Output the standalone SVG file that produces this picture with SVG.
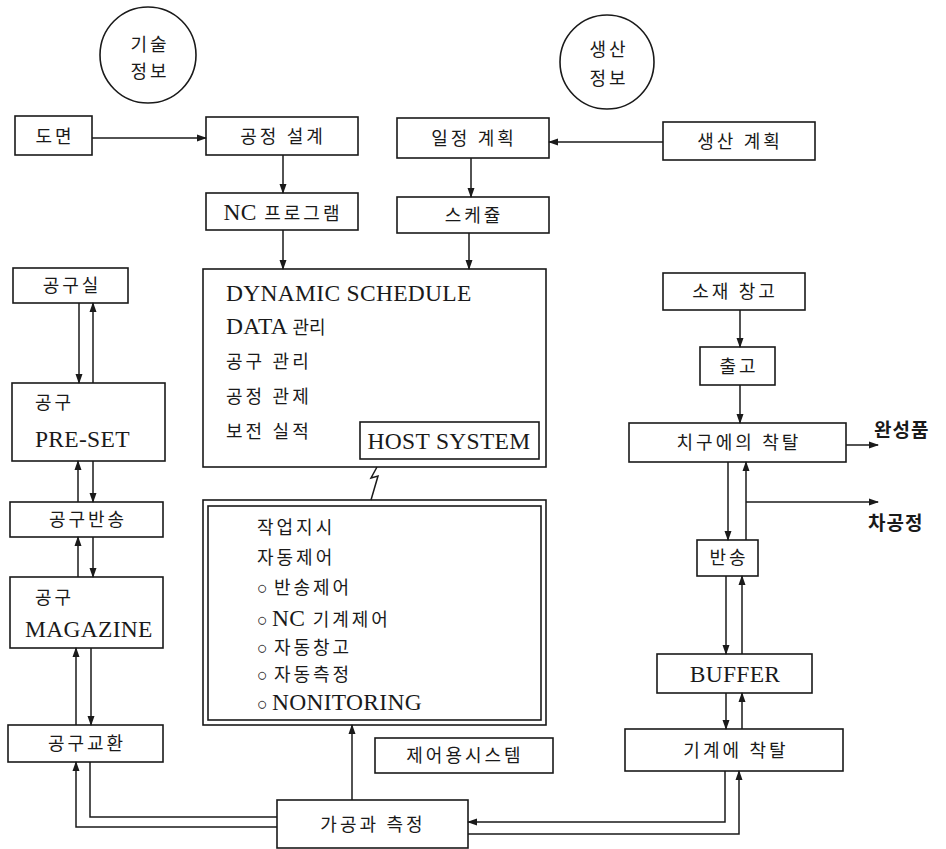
<svg xmlns="http://www.w3.org/2000/svg" width="946" height="849" viewBox="0 0 946 849">
<style>
  .bx { fill: #fff; stroke: #1a1a1a; stroke-width: 1.6; }
  .ln { fill: none; stroke: #1a1a1a; stroke-width: 1.5; }
  .ar { fill: none; stroke: #1a1a1a; stroke-width: 1.5; marker-end: url(#ah); }
  .t { font-family: "Liberation Serif", "Noto Sans CJK KR", serif; font-size: 18px; fill: #1a1a1a; }
  .c { text-anchor: middle; }
  .k { letter-spacing: 3px; }
  .lat { font-size: 23.5px; letter-spacing: 0.3px; }
  .side { font-family: "Noto Sans CJK KR", "Liberation Sans", sans-serif; font-size: 19px; font-weight: bold; fill: #1a1a1a; letter-spacing: 1px; }
</style>
<defs>
  <marker id="ah" markerUnits="userSpaceOnUse" markerWidth="10" markerHeight="8" refX="9" refY="4" orient="auto">
    <path d="M0,0.5 L10,4 L0,7.5 Z" fill="#1a1a1a"/>
  </marker>
</defs>
<rect width="946" height="849" fill="#fff"/>

<g id="circle-tech">
  <circle cx="148" cy="55" r="48" class="bx"/>
  <text class="t c k" x="150" y="51" font-size="20">기술</text>
  <text class="t c k" x="150" y="78" font-size="20">정보</text>
</g>
<g id="circle-prod">
  <circle cx="607" cy="62" r="47" class="bx"/>
  <text class="t c k" x="609" y="56" font-size="20">생산</text>
  <text class="t c k" x="609" y="85" font-size="20">정보</text>
</g>

<g id="n-domyeon"><rect class="bx" x="15" y="116" width="77" height="39"/><text class="t c k" x="55" y="143">도면</text></g>
<g id="n-gongjeong"><rect class="bx" x="206" y="117" width="152" height="38"/><text class="t c k" x="283" y="143">공정 설계</text></g>
<g id="n-ncprog"><rect class="bx" x="206" y="193" width="152" height="37"/><text class="t c" x="283" y="220"><tspan class="lat">NC</tspan><tspan class="k"> 프로그램</tspan></text></g>
<g id="n-iljeong"><rect class="bx" x="397" y="118" width="152" height="40"/><text class="t c k" x="474" y="145">일정 계획</text></g>
<g id="n-schedule"><rect class="bx" x="397" y="197" width="152" height="36"/><text class="t c k" x="474" y="222">스케쥴</text></g>
<g id="n-saengsan"><rect class="bx" x="663" y="122" width="152" height="38"/><text class="t c k" x="740" y="148">생산 계획</text></g>

<g id="n-host">
  <rect class="bx" x="203" y="269" width="343" height="198"/>
  <text class="t lat" x="226" y="301">DYNAMIC SCHEDULE</text>
  <text class="t" x="226" y="334"><tspan class="lat">DATA</tspan><tspan> 관리</tspan></text>
  <text class="t k" x="226" y="368">공구 관리</text>
  <text class="t k" x="226" y="403">공정 관제</text>
  <text class="t k" x="226" y="438">보전 실적</text>
  <rect class="bx" x="360" y="422" width="179" height="37"/>
  <text class="t c lat" x="449" y="449">HOST SYSTEM</text>
</g>

<g id="n-control">
  <rect class="bx" x="203" y="500" width="343" height="225"/>
  <rect class="bx" x="208" y="506" width="333" height="214"/>
  <text class="t k" x="257" y="534">작업지시</text>
  <text class="t k" x="257" y="564">자동제어</text>
  <text class="t" x="257" y="594">○<tspan class="k" dx="6">반송제어</tspan></text>
  <text class="t" x="257" y="626">○<tspan class="lat" dx="4">NC</tspan><tspan class="k"> 기계제어</tspan></text>
  <text class="t" x="257" y="654">○<tspan class="k" dx="6">자동창고</tspan></text>
  <text class="t" x="257" y="681">○<tspan class="k" dx="6">자동측정</tspan></text>
  <text class="t" x="257" y="710">○<tspan class="lat" dx="4">NONITORING</tspan></text>
</g>
<g id="n-ctrlsys"><rect class="bx" x="375" y="738" width="178" height="35"/><text class="t c k" x="465" y="762">제어용시스템</text></g>
<g id="n-gagong"><rect class="bx" x="277" y="800" width="191" height="48"/><text class="t c k" x="373" y="831">가공과 측정</text></g>

<g id="n-gongusil"><rect class="bx" x="13" y="268" width="115" height="35"/><text class="t c k" x="72" y="292">공구실</text></g>
<g id="n-preset"><rect class="bx" x="12" y="383" width="153" height="78"/><text class="t k" x="35" y="409">공구</text><text class="t lat" x="35" y="447">PRE-SET</text></g>
<g id="n-banson-tool"><rect class="bx" x="10" y="502" width="153" height="35"/><text class="t c k" x="88" y="526">공구반송</text></g>
<g id="n-magazine"><rect class="bx" x="10" y="577" width="153" height="71"/><text class="t k" x="35" y="604">공구</text><text class="t lat" x="25" y="637">MAGAZINE</text></g>
<g id="n-exchange"><rect class="bx" x="8" y="725" width="155" height="37"/><text class="t c k" x="87" y="750">공구교환</text></g>

<g id="n-sojae"><rect class="bx" x="663" y="273" width="142" height="37"/><text class="t c k" x="735" y="298">소재 창고</text></g>
<g id="n-chulgo"><rect class="bx" x="700" y="347" width="75" height="38"/><text class="t c k" x="739" y="373">출고</text></g>
<g id="n-jig"><rect class="bx" x="629" y="423" width="217" height="39"/><text class="t c k" x="739" y="449">치구에의 착탈</text></g>
<g id="n-wansung"><text class="side" x="874" y="437">완성품</text></g>
<g id="n-chagong"><text class="side" x="868" y="530">차공정</text></g>
<g id="n-banson"><rect class="bx" x="697" y="540" width="61" height="36"/><text class="t c k" x="729" y="564">반송</text></g>
<g id="n-buffer"><rect class="bx" x="657" y="654" width="155" height="39"/><text class="t c lat" x="735" y="682" fill="#444">BUFFER</text></g>
<g id="n-machine"><rect class="bx" x="625" y="729" width="218" height="42"/><text class="t c k" x="736" y="757">기계에 착탈</text></g>

<g id="connectors">
  <path class="ar" d="M92,138 H206"/>
  <path class="ar" d="M283,155 V193"/>
  <path class="ar" d="M283,230 V269"/>
  <path class="ar" d="M663,142 H549"/>
  <path class="ar" d="M471,158 V197"/>
  <path class="ar" d="M469,233 V269"/>

  <path class="ar" d="M79,303 V383"/>
  <path class="ar" d="M93,383 V303"/>
  <path class="ar" d="M78,502 V461"/>
  <path class="ar" d="M93,461 V502"/>
  <path class="ar" d="M78,577 V537"/>
  <path class="ar" d="M93,537 V577"/>
  <path class="ar" d="M76,725 V648"/>
  <path class="ar" d="M91,648 V725"/>

  <path class="ar" d="M277,827 H76 V762"/>
  <path class="ln" d="M90,762 V817 H277"/>
  <path class="ar" d="M352,800 V725"/>
  <path class="ar" d="M725,771 V822 H468"/>
  <path class="ar" d="M468,834 H739 V771"/>

  <path class="ln" d="M377,467 L371,478 L378,476 L371,500"/>

  <path class="ar" d="M740,310 V347"/>
  <path class="ar" d="M740,385 V423"/>
  <path class="ar" d="M846,445 H878"/>
  <path class="ar" d="M728,462 V540"/>
  <path class="ar" d="M746,540 V462"/>
  <path class="ar" d="M746,502 H878"/>
  <path class="ar" d="M726,576 V654"/>
  <path class="ar" d="M742,654 V576"/>
  <path class="ar" d="M726,693 V729"/>
  <path class="ar" d="M742,729 V693"/>
</g>
</svg>
